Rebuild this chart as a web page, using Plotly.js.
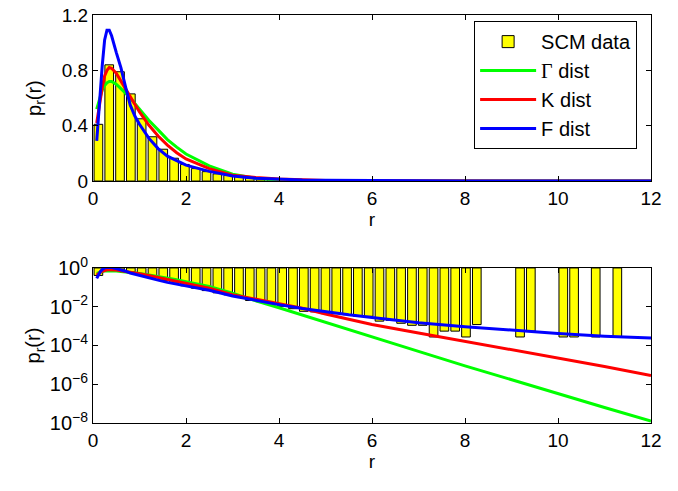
<!DOCTYPE html>
<html>
<head>
<meta charset="utf-8">
<script src="https://cdn.plot.ly/plotly-3.0.1.min.js"></script>
<style>html,body{margin:0;padding:0;background:#fff;}</style>
</head>
<body>
<div id="chart" style="width:678px;height:491px;"></div>
<script>
// Histogram bin centres (r) and SCM empirical density p_r(r)
const binCenters = [0.116,0.349,0.581,0.814,1.046,1.279,1.511,1.744,1.976,2.209,
  2.441,2.674,2.906,3.139,3.371,3.604,3.836,4.069,4.301,4.534,
  4.766,4.999,5.231,5.464,5.696,5.929,6.161,6.394,6.626,6.859,
  7.091,7.324,7.556,7.789,8.021,8.254,8.486,8.719,8.951,9.184,
  9.416,9.649,9.881,10.114,10.346,10.579,10.811,11.044,11.276];
const scmDensity = [0.41,0.84,0.79,0.63,0.45,0.32,0.23,0.165,0.12,0.09,
  0.068,0.052,0.041,0.035,0.021,0.018,0.013,0.0105,0.0079,0.0058,
  0.0054,0.0044,0.0044,0.0039,0.0032,0.0032,0.0018,0.002,0.0014,0.0011,
  0.0011,0.000275,0.00055,0.00055,0.000275,0.0012,0,0,0,0.000275,
  0.00055,0,0,0.000275,0.000275,0,0.000275,0,0.000275];
const barWidth = 0.186;

// Fitted distribution curves
const rGrid = [0.08,0.12,0.16,0.2,0.25,0.3,0.35,0.4,0.5,0.6,0.7,0.8,0.9,1.0,1.2,1.4,1.6,1.8,2.0,2.5,
  3,3.5,4,4.5,5,5.5,6,7,8,9,10,11,12];
const gammaPdf = [0.52,0.57,0.62,0.66,0.69,0.71,0.72,0.72,0.70,0.67,0.635,0.60,0.56,0.52,0.44,0.37,0.30,0.245,0.195,0.11,
  0.05,0.02,0.0089,0.0038,0.0016,0.00068,0.00028,5e-5,8.9e-6,1.66e-6,3.2e-7,6.3e-8,1.26e-8];
const kPdf = [0.42,0.52,0.61,0.68,0.76,0.80,0.82,0.815,0.78,0.72,0.67,0.61,0.555,0.50,0.405,0.325,0.26,0.205,0.16,0.09,
  0.042,0.025,0.015,0.0083,0.0042,0.0022,0.0012,0.00044,0.000166,6.3e-5,2.3e-5,8.3e-6,2.8e-6];
const fPdf = [0.29,0.48,0.66,0.84,1.02,1.09,1.09,1.05,0.93,0.82,0.68,0.55,0.47,0.41,0.31,0.235,0.18,0.145,0.115,0.07,
  0.036,0.021,0.0128,0.0081,0.0055,0.0038,0.0028,0.0015,0.00092,0.0006,0.00042,0.0003,0.00024];

const seriesNames = ['SCM data','<span style="font-family:\'Liberation Serif\',serif">Γ</span> dist','K dist','F dist'];
const yTitle = 'p<sub>r</sub>(r)';
const colors = {bar:'#ffff00', gamma:'#00ff00', k:'#ff0000', f:'#0000ff'};

const logBase = scmDensity.map(v => v > 0 ? v : null);
const logLen = scmDensity.map(v => v > 0 ? 1 - v : null);

const traces = [
  {type:'bar', x:binCenters, y:scmDensity, width:barWidth, name:seriesNames[0],
   marker:{color:colors.bar, line:{color:'#000', width:1}}, xaxis:'x', yaxis:'y'},
  {type:'scatter', mode:'lines', x:rGrid, y:gammaPdf, name:seriesNames[1],
   line:{color:colors.gamma, width:3}, xaxis:'x', yaxis:'y'},
  {type:'scatter', mode:'lines', x:rGrid, y:kPdf, name:seriesNames[2],
   line:{color:colors.k, width:3}, xaxis:'x', yaxis:'y'},
  {type:'scatter', mode:'lines', x:rGrid, y:fPdf, name:seriesNames[3],
   line:{color:colors.f, width:3}, xaxis:'x', yaxis:'y'},
  {type:'bar', x:binCenters, y:logLen, base:logBase, width:barWidth, showlegend:false,
   marker:{color:colors.bar, line:{color:'#000', width:1}}, xaxis:'x2', yaxis:'y2'},
  {type:'scatter', mode:'lines', x:rGrid, y:gammaPdf, showlegend:false,
   line:{color:colors.gamma, width:3}, xaxis:'x2', yaxis:'y2'},
  {type:'scatter', mode:'lines', x:rGrid, y:kPdf, showlegend:false,
   line:{color:colors.k, width:3}, xaxis:'x2', yaxis:'y2'},
  {type:'scatter', mode:'lines', x:rGrid, y:fPdf, showlegend:false,
   line:{color:colors.f, width:3}, xaxis:'x2', yaxis:'y2'}
];

const font = {family:'"Liberation Sans", Arial, Helvetica, sans-serif', color:'#000', size:19};
const xCommon = {range:[0,12], tickvals:[0,2,4,6,8,10,12], ticks:'inside', ticklen:5, tickcolor:'#000',
  showline:true, linecolor:'#000', linewidth:1, mirror:'ticks', showgrid:false, zeroline:false,
  tickfont:{size:19}, title:{text:'r', font:{size:19}, standoff:0}};

const layout = {
  width:678, height:491,
  margin:{l:93, r:27, t:15, b:68},
  paper_bgcolor:'#fff', plot_bgcolor:'#fff',
  font:font,
  barmode:'overlay',
  showlegend:true,
  legend:{x:0.683, y:0.985, xanchor:'left', yanchor:'top', bgcolor:'#fff',
    bordercolor:'#000', borderwidth:1, font:{size:20}, tracegroupgap:0, itemwidth:56},
  xaxis:Object.assign({}, xCommon, {anchor:'y', domain:[0,1]}),
  yaxis:{anchor:'x', domain:[0.593,1], range:[0,1.2], tickvals:[0,0.4,0.8,1.2],
    ticktext:['0','0.4','0.8','1.2'], ticks:'inside', ticklen:5, tickcolor:'#000',
    showline:true, linecolor:'#000', linewidth:1, mirror:'ticks', showgrid:false, zeroline:false,
    tickfont:{size:19}},
  xaxis2:Object.assign({}, xCommon, {anchor:'y2', domain:[0,1]}),
  yaxis2:{anchor:'x2', domain:[0,0.38], type:'log', range:[-8,0],
    tickvals:[1,1e-2,1e-4,1e-6,1e-8],
    ticktext:['10<sup>0</sup>','10<sup>−2</sup>','10<sup>−4</sup>','10<sup>−6</sup>','10<sup>−8</sup>'],
    ticks:'inside', ticklen:5, tickcolor:'#000',
    showline:true, linecolor:'#000', linewidth:1, mirror:'ticks', showgrid:false, zeroline:false,
    tickfont:{size:20}},
  annotations:[
    {text:yTitle, xref:'paper', yref:'paper', x:-0.104, y:0.7965, textangle:-90,
     showarrow:false, font:{size:20}, xanchor:'center', yanchor:'middle'},
    {text:yTitle, xref:'paper', yref:'paper', x:-0.104, y:0.19, textangle:-90,
     showarrow:false, font:{size:20}, xanchor:'center', yanchor:'middle'}
  ]
};

Plotly.newPlot('chart', traces, layout, {staticPlot:true, displayModeBar:false});
</script>
</body>
</html>
